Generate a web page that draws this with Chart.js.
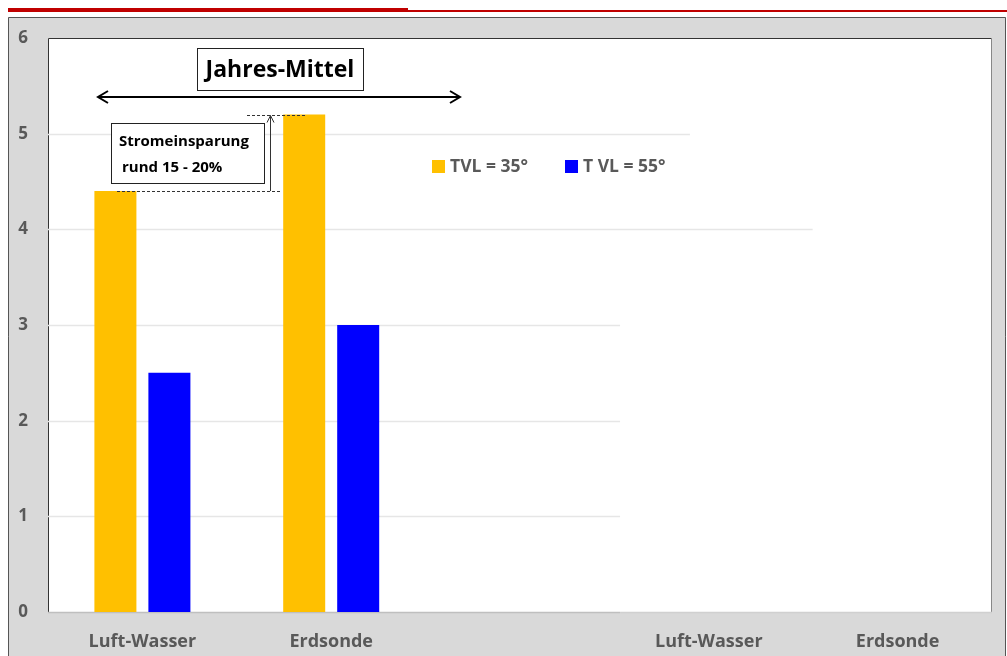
<!DOCTYPE html>
<html>
<head>
<meta charset="utf-8">
<script src="https://cdn.jsdelivr.net/npm/chart.js@4"></script>
<style>
  html, body { margin: 0; padding: 0; background: #fff; }
  #wrap { width: 1007px; height: 656px; position: relative; }
</style>
</head>
<body>
<div id="wrap"><canvas id="chart" width="1007" height="656"></canvas></div>
<script>
// --- datos ---
const categories = ['Luft-Wasser', 'Erdsonde', '', 'Luft-Wasser', 'Erdsonde'];
const tvl35 = [4.4, 5.2, null, null, null];
const tvl55 = [2.5, 3.0, null, null, null];
const seriesNames = ['TVL = 35°', 'T VL = 55°'];
const yMin = 0, yMax = 6, yStep = 1;

const ORANGE = '#FFC000';
const BLUE = '#0000FF';
const GREY_TEXT = '#595959';
const FONT = '"Open Sans", "Liberation Sans", sans-serif';

// gridlines only run part-way across in the original
const gridEnds = { 1: 2.53, 2: 2.53, 3: 2.53, 4: 3.55, 5: 2.9 };

const framePlugin = {
  id: 'frame',
  beforeDraw(chart) {
    const { ctx, chartArea: a } = chart;
    ctx.save();
    // red header lines
    ctx.fillStyle = '#C00000';
    ctx.fillRect(8, 8, 400, 4);
    ctx.fillRect(408, 10, 599, 2);
    // grey panel
    ctx.fillStyle = '#D9D9D9';
    ctx.fillRect(8, 17, 998, 639);
    ctx.strokeStyle = '#555';
    ctx.lineWidth = 1;
    ctx.beginPath();
    ctx.moveTo(8.5, 656); ctx.lineTo(8.5, 17.5); ctx.lineTo(1005.5, 17.5); ctx.lineTo(1005.5, 656);
    ctx.stroke();
    // white plot area
    ctx.fillStyle = '#fff';
    ctx.fillRect(a.left, a.top, a.right - a.left, a.bottom - a.top);
    ctx.strokeStyle = '#333';
    ctx.beginPath();
    ctx.moveTo(a.left + 0.5, a.bottom); ctx.lineTo(a.left + 0.5, a.top + 0.5); ctx.lineTo(a.right - 0.5, a.top + 0.5);
    ctx.stroke();
    ctx.strokeStyle = '#888';
    ctx.beginPath();
    ctx.moveTo(a.right - 0.5, a.top); ctx.lineTo(a.right - 0.5, a.bottom);
    ctx.stroke();
    ctx.restore();
  },
  beforeDatasetsDraw(chart) {
    const { ctx, chartArea: a, scales } = chart;
    ctx.save();
    ctx.lineWidth = 1.5;
    ctx.strokeStyle = '#E6E6E6';
    Object.keys(gridEnds).forEach(v => {
      const y = Math.round(scales.y.getPixelForValue(+v)) + 0.5;
      const xEnd = scales.x.getPixelForValue(gridEnds[v]);
      ctx.beginPath(); ctx.moveTo(a.left, y); ctx.lineTo(xEnd, y); ctx.stroke();
    });
    // base line
    const y0 = Math.round(scales.y.getPixelForValue(0)) + 0.5;
    const split = scales.x.getPixelForValue(2.53);
    ctx.strokeStyle = '#BFBFBF';
    ctx.beginPath(); ctx.moveTo(a.left, y0); ctx.lineTo(split, y0); ctx.stroke();
    ctx.strokeStyle = '#D0D0D0';
    ctx.beginPath(); ctx.moveTo(split, y0); ctx.lineTo(a.right, y0); ctx.stroke();
    ctx.restore();
  }
};

function arrowHead(ctx, x, y, dir, size) {
  // dir: 'l', 'r', 'u'
  ctx.beginPath();
  if (dir === 'l') { ctx.moveTo(x + size, y - size * 0.6); ctx.lineTo(x, y); ctx.lineTo(x + size, y + size * 0.6); }
  if (dir === 'r') { ctx.moveTo(x - size, y - size * 0.6); ctx.lineTo(x, y); ctx.lineTo(x - size, y + size * 0.6); }
  if (dir === 'u') { ctx.moveTo(x - size * 0.5, y + size); ctx.lineTo(x, y); ctx.lineTo(x + size * 0.5, y + size); }
  ctx.stroke();
}

const annotationPlugin = {
  id: 'notes',
  afterDraw(chart) {
    const { ctx, scales } = chart;
    const yLow = scales.y.getPixelForValue(tvl35[0]);
    const yHigh = scales.y.getPixelForValue(tvl35[1]);
    ctx.save();

    // Jahres-Mittel box + double arrow
    ctx.fillStyle = '#fff';
    ctx.fillRect(197, 48, 166, 42);
    ctx.strokeStyle = '#222';
    ctx.lineWidth = 1;
    ctx.strokeRect(197.5, 48.5, 166, 42);
    ctx.fillStyle = '#000';
    ctx.font = 'bold 23px ' + FONT;
    ctx.textAlign = 'center';
    ctx.textBaseline = 'middle';
    ctx.fillText('Jahres-Mittel', 280, 70);

    ctx.lineWidth = 2;
    ctx.strokeStyle = '#000';
    ctx.beginPath(); ctx.moveTo(99, 97); ctx.lineTo(459, 97); ctx.stroke();
    arrowHead(ctx, 98, 97, 'l', 10);
    arrowHead(ctx, 460, 97, 'r', 10);

    // dashed reference lines
    ctx.lineWidth = 1;
    ctx.strokeStyle = '#333';
    ctx.setLineDash([3, 2]);
    ctx.beginPath(); ctx.moveTo(117, Math.round(yLow) + 0.5); ctx.lineTo(280, Math.round(yLow) + 0.5); ctx.stroke();
    ctx.beginPath(); ctx.moveTo(247, Math.round(yHigh) + 0.5); ctx.lineTo(307, Math.round(yHigh) + 0.5); ctx.stroke();
    ctx.setLineDash([]);

    // vertical arrow
    ctx.beginPath(); ctx.moveTo(270.5, yLow); ctx.lineTo(270.5, yHigh + 1); ctx.stroke();
    arrowHead(ctx, 270.5, yHigh + 1, 'u', 7);

    // Stromeinsparung box
    ctx.fillStyle = '#fff';
    ctx.fillRect(111, 123, 153, 60);
    ctx.strokeStyle = '#222';
    ctx.strokeRect(111.5, 123.5, 153, 60);
    ctx.fillStyle = '#000';
    ctx.font = 'bold 15px ' + FONT;
    ctx.textAlign = 'left';
    ctx.fillText('Stromeinsparung', 119, 142);
    ctx.fillText('rund 15 - 20%', 122, 168);

    // legend
    const legend = [
      { x: 432, color: ORANGE, text: seriesNames[0] },
      { x: 565, color: BLUE, text: seriesNames[1] }
    ];
    ctx.font = 'bold 17.5px ' + FONT;
    legend.forEach(l => {
      ctx.fillStyle = l.color;
      ctx.fillRect(l.x, 160, 13, 13);
      ctx.fillStyle = GREY_TEXT;
      ctx.fillText(l.text, l.x + 18, 167);
    });
    ctx.restore();
  }
};

new Chart(document.getElementById('chart'), {
  type: 'bar',
  data: {
    labels: categories,
    datasets: [
      { label: seriesNames[0], data: tvl35, backgroundColor: ORANGE, borderWidth: 0 },
      { label: seriesNames[1], data: tvl55, backgroundColor: BLUE, borderWidth: 0 }
    ]
  },
  options: {
    responsive: false,
    animation: false,
    devicePixelRatio: 1,
    layout: { padding: { left: 8, top: 38, right: 15, bottom: 0 } },
    datasets: { bar: { categoryPercentage: 0.572, barPercentage: 0.778 } },
    plugins: { legend: { display: false }, tooltip: { enabled: false } },
    scales: {
      x: {
        grid: { display: false, drawTicks: false },
        border: { display: false },
        ticks: { color: GREY_TEXT, font: { family: FONT, size: 18, weight: 'bold' }, padding: 19, maxRotation: 0, autoSkip: false },
        afterFit(scale) { scale.height = 44; }
      },
      y: {
        min: yMin, max: yMax,
        grid: { display: false, drawTicks: false },
        border: { display: false },
        ticks: { stepSize: yStep, color: GREY_TEXT, font: { family: FONT, size: 17, weight: 'bold' }, padding: 20 },
        afterFit(scale) { scale.width = 40; }
      }
    }
  },
  plugins: [framePlugin, annotationPlugin]
});
</script>
</body>
</html>
